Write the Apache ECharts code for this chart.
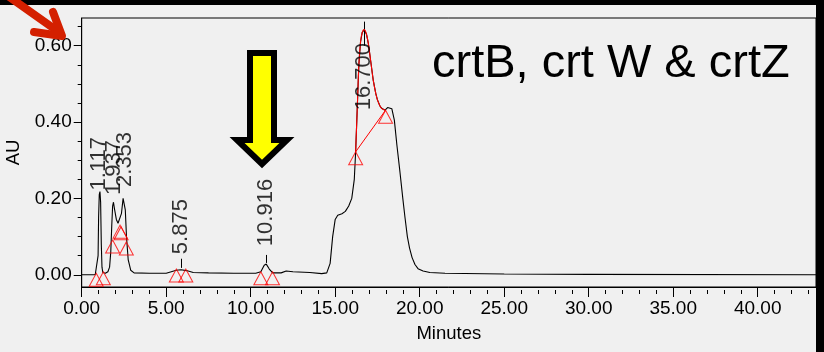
<!DOCTYPE html>
<html>
<head>
<meta charset="utf-8">
<script src="https://cdn.jsdelivr.net/npm/echarts@6/dist/echarts.min.js"></script>
<style>
html,body{margin:0;padding:0;background:#f0f0f0;}
#c{width:824px;height:352px;}
</style>
</head>
<body>
<div id="c"></div>
<script>
// ---- data ----
const traceTime = [0,0.8,0.9,0.97,1.0,1.04,1.08,1.12,1.16,1.2,1.25,1.4,1.55,1.65,1.72,1.78,1.83,1.88,1.95,2.05,2.15,2.25,2.35,2.45,2.52,2.58,2.65,2.75,2.9,3.1,4.0,5.0,5.3,5.6,5.875,6.2,6.6,7.5,9.0,10.3,10.6,10.8,10.92,11.1,11.3,11.8,12.1,12.5,13.5,14.2,14.5,14.7,14.85,15.0,15.15,15.4,15.6,15.8,15.98,16.13,16.21,16.3,16.4,16.5,16.6,16.72,16.85,16.96,17.1,17.25,17.4,17.5,17.65,17.75,17.95,18.1,18.2,18.35,18.5,18.65,18.83,19.0,19.13,19.27,19.4,19.55,19.72,19.9,20.2,20.6,21.5,25,30,43.45];
const traceAU   = [0,0,0.002,0.05,0.15,0.21,0.218,0.19,0.08,0.02,0.006,0.004,0.008,0.02,0.06,0.13,0.18,0.19,0.17,0.145,0.135,0.14,0.16,0.2,0.205,0.17,0.1,0.04,0.012,0.005,0.004,0.004,0.008,0.012,0.013,0.011,0.006,0.005,0.004,0.004,0.008,0.025,0.028,0.015,0.005,0.005,0.01,0.008,0.006,0.003,0.005,0.03,0.1,0.145,0.156,0.16,0.166,0.18,0.2,0.25,0.322,0.43,0.55,0.61,0.635,0.642,0.63,0.606,0.56,0.51,0.475,0.458,0.442,0.436,0.431,0.438,0.44,0.435,0.405,0.34,0.27,0.2,0.15,0.1,0.07,0.045,0.027,0.016,0.01,0.006,0.004,0.002,0.001,0];

const fitTime = [16.21,16.3,16.4,16.5,16.6,16.72,16.85,16.96,17.1,17.25,17.4,17.5,17.65,17.75,17.9,17.98];
const fitAU   = [0.322,0.43,0.55,0.61,0.635,0.642,0.63,0.606,0.56,0.51,0.475,0.458,0.442,0.436,0.432,0.431];

const baseTime = [16.21,17.98];
const baseAU   = [0.322,0.431];

const markerTime = [0.86,1.28,1.83,2.27,2.33,2.64,5.6,6.16,10.6,11.29,16.21,17.98];
const markerAU   = [0.004,0.008,0.091,0.13,0.126,0.086,0.015,0.015,0.008,0.008,0.322,0.431];

const peakLabels    = ['1.117','1.937','2.353','5.875','10.916','16.700'];
const peakLabelTime = [1.0,1.88,2.55,5.86,10.9,16.7];
const peakLabelAU   = [0.221,0.209,0.23,0.054,0.075,0.431];

const peakTickTime = [5.875,10.916,16.7];
const peakTickFrom = [0.018,0.031,0.6];
const peakTickTo   = [0.042,0.052,0.663];

const xMajorTicks = [0,5,10,15,20,25,30,35,40];
const xMinorTicks = [0,1,2,3,4,5,6,7,8,9,10,11,12,13,14,15,16,17,18,19,20,21,22,23,24,25,26,27,28,29,30,31,32,33,34,35,36,37,38,39,40,41,42,43];
const yMajorTicks = [0,0.2,0.4,0.6];
const yMinorTicks = [0,0.05,0.1,0.15,0.2,0.25,0.3,0.35,0.4,0.45,0.5,0.55,0.6,0.65];

const X_MIN = 0, X_MAX = 43.45, Y_MIN = -0.032, Y_MAX = 0.6725;

const zip = (a, b) => a.map((v, i) => [v, b[i]]);
const FONT = '"Liberation Sans", Arial, Helvetica, sans-serif';

const chart = echarts.init(document.getElementById('c'), null, {renderer: 'canvas'});

const option = {
  backgroundColor: '#f0f0f0',
  animation: false,
  grid: {left: 81.7, top: 18, right: 8, bottom: 65, containLabel: false, outerBoundsMode: 'none',
         show: true, borderColor: '#000', borderWidth: 1, backgroundColor: 'transparent'},
  xAxis: [
    {type: 'value', min: X_MIN, max: X_MAX, position: 'bottom',
     name: 'Minutes', nameLocation: 'middle', nameGap: 37,
     nameTextStyle: {color: '#000', fontSize: 18.5, fontFamily: FONT},
     axisLine: {show: true, onZero: false, lineStyle: {color: '#000', width: 1}},
     axisTick: {show: true, customValues: xMajorTicks, length: 10, lineStyle: {color: '#000', width: 1}},
     axisLabel: {show: true, customValues: xMajorTicks, margin: 12, color: '#000', fontSize: 19, fontFamily: FONT,
                 formatter: v => v.toFixed(2)},
     splitLine: {show: false}},
    {type: 'value', min: X_MIN, max: X_MAX, position: 'bottom', offset: 3,
     axisLine: {show: false, onZero: false},
     axisTick: {show: true, customValues: xMinorTicks, length: 4, lineStyle: {color: '#000', width: 1}},
     axisLabel: {show: false}, splitLine: {show: false}}
  ],
  yAxis: [
    {type: 'value', min: Y_MIN, max: Y_MAX, position: 'left',
     name: 'AU', nameLocation: 'middle', nameGap: 51,
     nameTextStyle: {color: '#000', fontSize: 18.5, fontFamily: FONT},
     axisLine: {show: true, onZero: false, lineStyle: {color: '#000', width: 1}},
     axisTick: {show: true, customValues: yMajorTicks, length: 8, lineStyle: {color: '#000', width: 1}},
     axisLabel: {show: true, customValues: yMajorTicks, margin: 10, color: '#000', fontSize: 19, fontFamily: FONT,
                 formatter: v => v.toFixed(2)},
     splitLine: {show: false}},
    {type: 'value', min: Y_MIN, max: Y_MAX, position: 'left',
     axisLine: {show: false, onZero: false},
     axisTick: {show: true, customValues: yMinorTicks, length: 4, lineStyle: {color: '#000', width: 1}},
     axisLabel: {show: false}, splitLine: {show: false}}
  ],
  series: [
    {type: 'line', name: 'trace', data: zip(traceTime, traceAU), showSymbol: false, symbol: 'none',
     lineStyle: {color: '#000', width: 1.1}, z: 2, silent: true},
    {type: 'line', name: 'fit', data: zip(fitTime, fitAU), showSymbol: false, symbol: 'none', smooth: 0.3,
     lineStyle: {color: '#ff0000', width: 1.1}, z: 3, silent: true},
    {type: 'line', name: 'base', data: zip(baseTime, baseAU), showSymbol: false, symbol: 'none',
     lineStyle: {color: '#ff0000', width: 1}, z: 3, silent: true},
    {type: 'scatter', name: 'markers', data: zip(markerTime, markerAU), symbol: 'triangle',
     symbolSize: [14, 13], symbolOffset: [0, '50%'],
     itemStyle: {color: 'rgba(0,0,0,0)', borderColor: '#ff0000', borderWidth: 1}, z: 4, silent: true},
    {type: 'lines', coordinateSystem: 'cartesian2d', name: 'ticks',
     data: peakTickTime.map((t, i) => ({coords: [[t, peakTickFrom[i]], [t, peakTickTo[i]]]})),
     lineStyle: {color: '#000', width: 1, opacity: 1}, z: 3, silent: true},
    {type: 'scatter', name: 'labels', symbol: 'circle', symbolSize: 2,
     data: peakLabels.map((s, i) => ({name: s, value: [peakLabelTime[i], peakLabelAU[i]]})),
     itemStyle: {color: 'rgba(0,0,0,0)', borderWidth: 0},
     label: {show: true, formatter: p => p.name, position: [1, 1], rotate: 90, align: 'left', verticalAlign: 'middle',
             color: '#000', fontSize: 22, fontFamily: FONT},
     labelLayout: {hideOverlap: false},
     z: 5, silent: true}
  ],
  graphic: [
    {type: 'text', left: 432, top: 41, z: 10,
     style: {text: 'crtB, crt W & crtZ', font: '47px ' + FONT, fill: '#000'}},
    {type: 'polygon', z: 10,
     shape: {points: [[250,53],[274,53],[274,140],[287,140],[262,164],[237,140],[250,140]]},
     style: {fill: '#ffff00', stroke: '#000', lineWidth: 6, lineJoin: 'miter'}},
    {type: 'rect', z: 20, shape: {x: 0, y: 0, width: 824, height: 5}, style: {fill: '#000'}},
    {type: 'rect', z: 20, shape: {x: 816, y: 0, width: 8, height: 352}, style: {fill: '#000'}},
    {type: 'polyline', z: 30, shape: {points: [[8,-4],[56,30]]},
     style: {stroke: '#d42000', lineWidth: 8, lineCap: 'round', fill: null}},
    {type: 'polyline', z: 30, shape: {points: [[34,32],[62,36],[53,12]]},
     style: {stroke: '#d42000', lineWidth: 8, lineCap: 'round', lineJoin: 'round', fill: null}}
  ]
};
chart.setOption(option);
</script>
</body>
</html>
